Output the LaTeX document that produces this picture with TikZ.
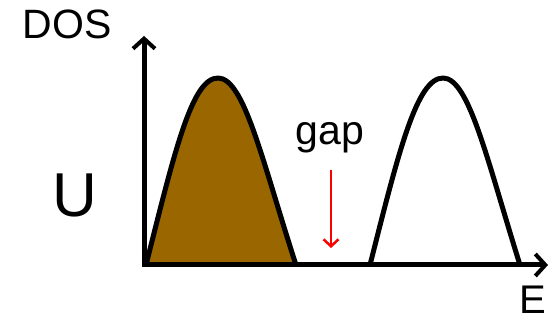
\documentclass[tikz,border=0pt]{standalone}
\usepackage{fontspec}
\setmainfont{Liberation Sans}
\usetikzlibrary{arrows.meta}
\definecolor{lobebrown}{RGB}{153,102,0}
\tikzset{
  axis/.style={line width=5pt, -{Straight Barb[length=10pt,width=22pt,line width=4pt]}},
  lobe/.style={line width=5pt, line join=round},
  gaparrow/.style={red, line width=2.2pt, -{Straight Barb[length=7pt,width=15pt,line width=2.5pt]}},
  lbl/.style={inner sep=0pt, anchor=base}
}
\begin{document}
\begin{tikzpicture}[x=1pt,y=-1pt]
\useasboundingbox (0,0) rectangle (552,323);
\coordinate (o) at (144,265);
\coordinate (ytop) at (144,36);
\coordinate (xend) at (548,265);
% filled lower band
\fill[lobebrown] (146,265) .. controls (175,150) and (192,78) .. (218,78) .. controls (244,78) and (262,160) .. (296,265) -- cycle;
\draw[lobe] (146,265) .. controls (175,150) and (192,78) .. (218,78) .. controls (244,78) and (262,160) .. (296,265);
% upper band
\draw[lobe] (370,265) .. controls (399,150) and (417,78) .. (443,78) .. controls (469,78) and (487,160) .. (520,265);
% axes
\draw[axis] (o) -- (ytop);
\draw[axis] ([xshift=-2.5pt]o) -- (xend);
% labels
\node[lbl] (dos) at (67,39) {\fontsize{41}{41}\selectfont DOS};
\node[lbl] (u) at (75,217) {\fontsize{62}{62}\selectfont U};
\node[lbl] (gap) at (330,145) {\fontsize{41}{41}\selectfont gap};
\node[lbl] (e) at (533,314) {\fontsize{40}{40}\selectfont E};
\coordinate (gs) at (331,170);
\coordinate (ge) at (331,248);
\draw[gaparrow] (gs) -- (ge);
\end{tikzpicture}
\end{document}
